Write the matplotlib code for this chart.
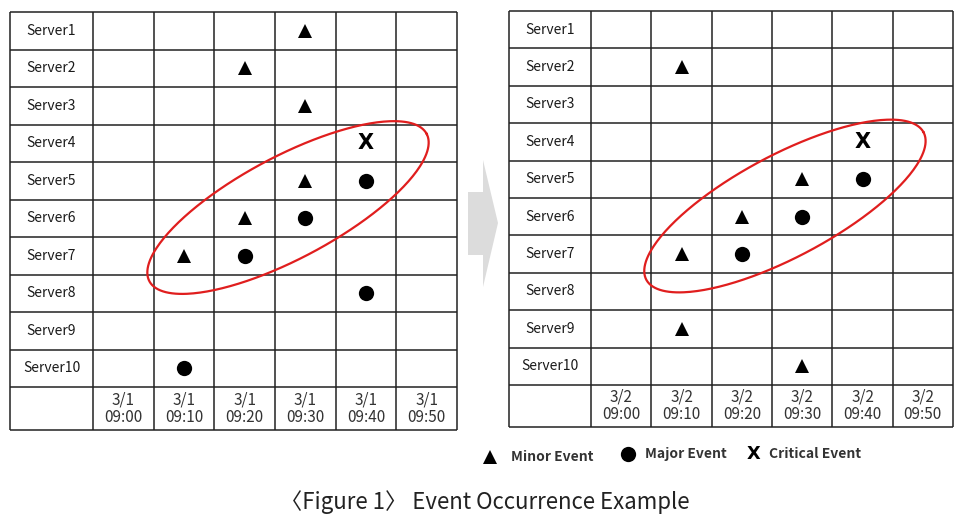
import matplotlib
matplotlib.use('Agg')
import matplotlib.pyplot as plt
import numpy as np
from matplotlib.patches import Polygon

plt.rcParams['font.family'] = ['Noto Sans CJK KR', 'DejaVu Sans']

servers = ['Server%d' % i for i in range(1, 11)]
slots = ['09:00', '09:10', '09:20', '09:30', '09:40', '09:50']

# day 1 (3/1): server number, time slot, event kind
day1_server = [1, 2, 3, 4, 5, 5, 6, 6, 7, 7, 8, 10]
day1_slot = ['09:30', '09:20', '09:30', '09:40', '09:30', '09:40',
             '09:20', '09:30', '09:10', '09:20', '09:40', '09:10']
day1_kind = ['minor', 'minor', 'minor', 'critical', 'minor', 'major',
             'minor', 'major', 'minor', 'major', 'major', 'major']

# day 2 (3/2)
day2_server = [2, 4, 5, 5, 6, 6, 7, 7, 9, 10]
day2_slot = ['09:10', '09:40', '09:30', '09:40', '09:20', '09:30',
             '09:10', '09:20', '09:10', '09:30']
day2_kind = ['minor', 'critical', 'minor', 'major', 'minor', 'major',
             'minor', 'major', 'minor', 'minor']

# servers taking part in the repeated pattern (circled in red)
pattern_servers = [4, 5, 6, 7]

legend_kinds = ['minor', 'major', 'critical']
legend_labels = ['Minor Event', 'Major Event', 'Critical Event']

W, H = 973, 523
fig = plt.figure(figsize=(W / 100, H / 100), dpi=100)


def draw_event(ax, x, y, kind, size=1.0):
    if kind == 'minor':
        ax.plot(x, y, '^', ms=10.5 * size, color='black', mew=0)
    elif kind == 'major':
        ax.plot(x, y, 'o', ms=11 * size, color='black', mew=0)
    else:
        ax.text(x, y, 'X', ha='center', va='center', fontsize=15 * size,
                fontweight='bold', family='DejaVu Sans', color='black')


def draw_day(rect, day, srv, slot, kind, label_px, head_px):
    left, top, right, bottom = rect
    ax = fig.add_axes([left / W, 1 - bottom / H, (right - left) / W, (bottom - top) / H])
    col_px = (right - left - label_px) / len(slots)
    row_px = (bottom - top - head_px) / len(servers)
    lab_w = label_px / col_px
    head_h = head_px / row_px
    x0 = -0.5 - lab_w
    x1 = len(slots) - 0.5
    y1 = len(servers) + 0.5 + head_h
    ax.set_xlim(x0, x1)
    ax.set_ylim(y1, 0.5)
    ax.axis('off')

    # table grid
    xs = np.r_[x0, np.arange(len(slots) + 1) - 0.5]
    ys = np.r_[np.arange(len(servers) + 1) + 0.5, y1]
    ax.vlines(xs, 0.5, y1, color='#222222', lw=1.1, clip_on=False)
    ax.hlines(ys, x0, x1, color='#222222', lw=1.1, clip_on=False)

    for i, name in enumerate(servers):
        ax.text(x0 + lab_w / 2, i + 1, name, ha='center', va='center',
                fontsize=10, color='#1a1a1a')
    for j, t in enumerate(slots):
        ax.text(j, len(servers) + 0.5 + head_h / 2, f'{day}\n{t}', ha='center',
                va='center', fontsize=11, color='#333333', linespacing=1.0)

    xpos = [slots.index(s) for s in slot]
    for x, y, k in zip(xpos, srv, kind):
        draw_event(ax, x, y, k)

    # red ellipse around the repeated pattern (shape given in pixels)
    sel = [i for i, s in enumerate(srv) if s in pattern_servers]
    cx = np.mean([xpos[i] for i in sel])
    cy = np.mean([srv[i] for i in sel])
    a, b, th = 157, 51, np.radians(28)
    t = np.linspace(0, 2 * np.pi, 300)
    dx = a * np.cos(t) * np.cos(th) - b * np.sin(t) * np.sin(th)
    dy = a * np.cos(t) * np.sin(th) + b * np.sin(t) * np.cos(th)
    ax.plot(cx + dx / col_px, cy - dy / row_px, color='#e01e1e', lw=1.6, clip_on=False)
    return ax


draw_day((10, 12, 457, 430), '3/1', day1_server, day1_slot, day1_kind, 83, 43)
draw_day((509, 11, 953, 427), '3/2', day2_server, day2_slot, day2_kind, 82, 42)

# overlay in pixel coordinates for arrow, legend and caption
ov = fig.add_axes([0, 0, 1, 1])
ov.set_xlim(0, W)
ov.set_ylim(H, 0)
ov.axis('off')

arrow = [(468, 192), (483, 192), (483, 160), (498, 223), (483, 287), (483, 255), (468, 255)]
ov.add_patch(Polygon(arrow, closed=True, color='#dcdcdc', lw=0))

leg_mark_x = [490, 628, 753]
leg_text_x = [511, 645, 769]
leg_y = [457, 454, 454]
for k, lab, mx, tx, y in zip(legend_kinds, legend_labels, leg_mark_x, leg_text_x, leg_y):
    draw_event(ov, mx, y, k, size=1.0 if k != 'critical' else 0.85)
    ov.text(tx, y, lab, ha='left', va='center', fontsize=10, fontweight='bold', color='#333333')

ov.text(485, 502, '〈Figure 1〉 Event Occurrence Example', ha='center', va='center',
        fontsize=16, color='#222222')

fig.savefig('out.png', dpi=100)
